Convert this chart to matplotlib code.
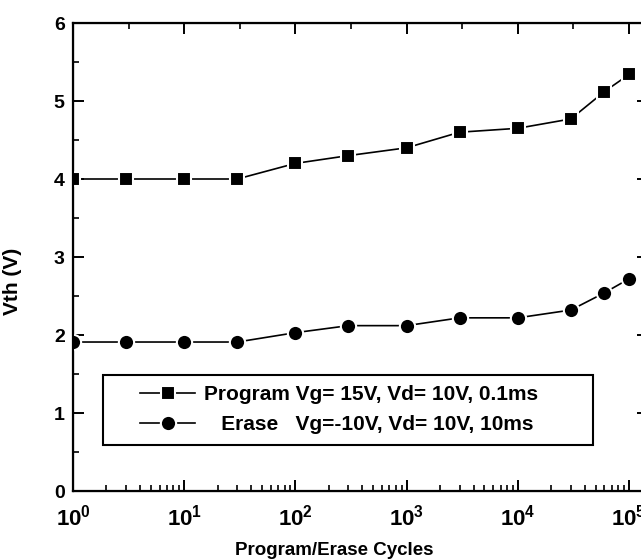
import numpy as np
import matplotlib
matplotlib.use('Agg')
import matplotlib.pyplot as plt
from matplotlib.patches import Rectangle
from matplotlib.ticker import LogLocator, NullFormatter, MultipleLocator, FixedLocator

plt.rcParams['font.family'] = ['Liberation Sans', 'DejaVu Sans']
plt.rcParams['font.weight'] = 'bold'
plt.rcParams['mathtext.fontset'] = 'custom'
plt.rcParams['mathtext.bf'] = 'Liberation Sans:bold'
plt.rcParams['mathtext.rm'] = 'Liberation Sans:bold'

# data
cycles = [1, 3, 10, 30, 100, 300, 1000, 3000, 10000, 30000, 60000, 100000]
vth_program = [4.0, 4.0, 4.0, 4.0, 4.2, 4.3, 4.4, 4.6, 4.65, 4.77, 5.12, 5.34]
vth_erase = [1.91, 1.91, 1.91, 1.91, 2.03, 2.12, 2.12, 2.22, 2.22, 2.32, 2.54, 2.72]
label_program = 'Program Vg= 15V, Vd= 10V, 0.1ms'
label_erase = '   Erase   Vg=-10V, Vd= 10V, 10ms'
decades = [0, 1, 2, 3, 4, 5]

fig = plt.figure(figsize=(6.41, 5.60), dpi=100)
# axes runs past the right edge, like the cropped original
ax = fig.add_axes([73/641, 69/560, 575/641, 468/560])
ax.set_xscale('log')
xmax = 10**(575/111.2)
ax.set_xlim(1, xmax)
ax.set_ylim(0, 6)
ax.set_xticks([10.0**d for d in decades])
ax.set_xticklabels([r'$\mathbf{10^{%d}}$' % d for d in decades], fontsize=16)
ax.xaxis.set_minor_locator(LogLocator(base=10, subs=np.arange(2, 10), numticks=20))
ax.xaxis.set_minor_formatter(NullFormatter())
ax.yaxis.set_major_locator(MultipleLocator(1))
ax.yaxis.set_minor_locator(MultipleLocator(0.5))
ax.tick_params(axis='y', labelsize=14, pad=6)
ax.tick_params(axis='x', pad=10)
ax.tick_params(which='major', direction='in', length=8, width=1.4, right=True)
ax.tick_params(which='minor', direction='in', length=4, width=1.2, right=True)
ax.tick_params(axis='x', which='both', top=False)
for s in ax.spines.values():
    s.set_linewidth(1.6)

# top axis ticks (half decades)
top = ax.twiny()
top.set_xscale('log')
top.set_xlim(1, xmax)
top.set_xticks([10.0**d for d in decades[1:]])
top.xaxis.set_minor_locator(FixedLocator([10.0**(d + 0.5) for d in decades]))
top.xaxis.set_major_formatter(NullFormatter())
top.xaxis.set_minor_formatter(NullFormatter())
top.tick_params(which='major', direction='in', length=8, width=1.4)
top.tick_params(which='minor', direction='in', length=4, width=1.2)

ax.plot(cycles, vth_program, color='black', lw=1.2, marker='s', ms=10,
        mfc='black', mec='white', mew=1.5, label=label_program, zorder=5)
ax.plot(cycles, vth_erase, color='black', lw=1.2, marker='o', ms=11,
        mfc='black', mec='white', mew=1.5, label=label_erase, zorder=5)

ax.set_ylabel('Vth (V)', fontsize=15, fontweight='bold')
ax.yaxis.set_label_coords(-0.088, 0.447)
ax.set_xlabel('Program/Erase Cycles', fontsize=13.5, fontweight='bold')
ax.xaxis.set_label_coords(0.455, -0.11)

# legend box
ax.add_patch(Rectangle((30/575, 46/468), 490/575, 70/468, transform=ax.transAxes,
                       fill=False, edgecolor='black', lw=1.5, zorder=6))
leg = ax.legend(loc='upper left', bbox_to_anchor=(67/575, 106/468), borderaxespad=0,
                borderpad=0, frameon=False, prop={'weight': 'bold', 'size': 15},
                handlelength=2.65, labelspacing=0.55, handletextpad=0.4)

fig.savefig('out.png', dpi=100)
